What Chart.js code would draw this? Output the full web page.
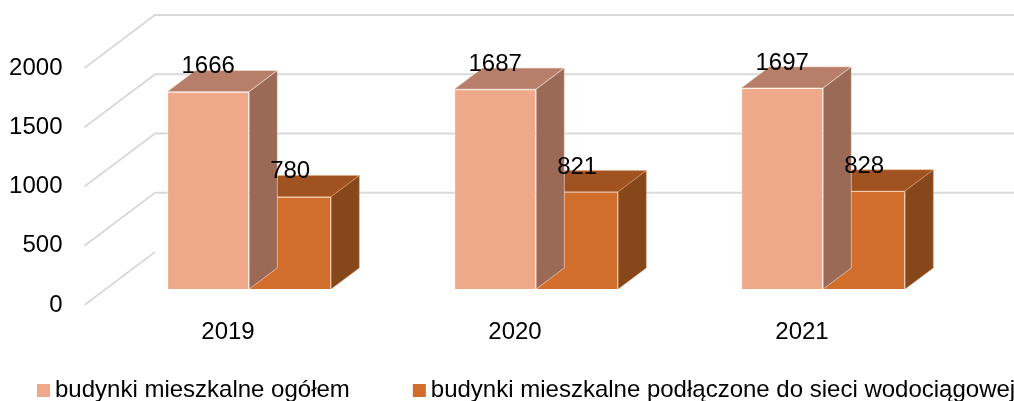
<!DOCTYPE html>
<html>
<head>
<meta charset="utf-8">
<script src="https://cdn.jsdelivr.net/npm/chart.js@4/dist/chart.umd.min.js"></script>
<style>
  html, body { margin: 0; padding: 0; background: #ffffff; }
  #wrap { width: 1014px; height: 401px; position: relative; }
</style>
</head>
<body>
<div id="wrap"><canvas id="c"></canvas></div>
<script>
// Years on the category axis
const categories = ['2019', '2020', '2021'];
// Residential buildings, total
const totalBuildings = [1666, 1687, 1697];
// Residential buildings connected to the water supply network
const connectedBuildings = [780, 821, 828];
const seriesNames = [
  'budynki mieszkalne ogółem',
  'budynki mieszkalne podłączone do sieci wodociągowej'
];
// Value axis ticks
const yTicks = [0, 500, 1000, 1500, 2000];

const FONT = '"Liberation Sans", Arial, Helvetica, sans-serif';
const FONT_SIZE = 24;

// Oblique projection of the floor depth (front edge -> back wall)
const DEPTH_X = 70.5;
const DEPTH_Y = -53;
// Bars sit between these fractions of the floor depth
const BAR_FRONT = 0.3;
const BAR_BACK = 0.7;

const faceColors = [
  { front: '#F0A88A', top: '#B77F69', side: '#9A6A57', edge: 'rgba(255,236,226,0.55)' },
  { front: '#D26E2B', top: '#A05220', side: '#86471B', edge: 'rgba(240,170,120,0.45)' }
];

const gridColor = '#d9d9d9';

const threeD = {
  id: 'threeD',
  beforeDatasetsDraw(chart) {
    const ctx = chart.ctx;
    const yScale = chart.scales.y;
    const left = chart.chartArea.left;
    ctx.save();
    ctx.strokeStyle = gridColor;
    ctx.lineWidth = 1.8;
    yTicks.forEach(v => {
      const py = yScale.getPixelForValue(v);
      ctx.beginPath();
      ctx.moveTo(left, py);
      ctx.lineTo(left + DEPTH_X, py + DEPTH_Y);
      if (v !== 0) ctx.lineTo(chart.width, py + DEPTH_Y);
      ctx.stroke();
    });
    ctx.restore();
  },
  beforeDatasetDraw(chart) {
    const ctx = chart.ctx;
    ctx.save();
    ctx.translate(DEPTH_X * BAR_FRONT, DEPTH_Y * BAR_FRONT);
  },
  afterDatasetDraw(chart, args) {
    const ctx = chart.ctx;
    const col = faceColors[args.index];
    const dx = DEPTH_X * (BAR_BACK - BAR_FRONT);
    const dy = DEPTH_Y * (BAR_BACK - BAR_FRONT);
    args.meta.data.forEach(bar => {
      const { x, y, base, width } = bar.getProps(['x', 'y', 'base', 'width'], true);
      const l = x - width / 2, r = x + width / 2;
      ctx.lineWidth = 1;
      ctx.strokeStyle = col.edge;
      // top face
      ctx.fillStyle = col.top;
      ctx.beginPath();
      ctx.moveTo(l, y);
      ctx.lineTo(l + dx, y + dy);
      ctx.lineTo(r + dx, y + dy);
      ctx.lineTo(r, y);
      ctx.closePath();
      ctx.fill();
      ctx.stroke();
      // right side face
      ctx.fillStyle = col.side;
      ctx.beginPath();
      ctx.moveTo(r, y);
      ctx.lineTo(r + dx, y + dy);
      ctx.lineTo(r + dx, base + dy);
      ctx.lineTo(r, base);
      ctx.closePath();
      ctx.fill();
      ctx.stroke();
    });
    ctx.restore();
  },
  afterDatasetsDraw(chart) {
    // value labels above each bar
    const ctx = chart.ctx;
    ctx.save();
    ctx.font = FONT_SIZE + 'px ' + FONT;
    ctx.fillStyle = '#000000';
    ctx.textAlign = 'center';
    ctx.textBaseline = 'alphabetic';
    chart.data.datasets.forEach((ds, di) => {
      const meta = chart.getDatasetMeta(di);
      meta.data.forEach((bar, i) => {
        const { x, y } = bar.getProps(['x', 'y'], true);
        ctx.fillText(String(ds.data[i]), x + DEPTH_X * BAR_FRONT, y + DEPTH_Y * BAR_BACK + 3);
      });
    });
    ctx.restore();
  },
  afterDraw(chart) {
    // legend row along the bottom edge
    const ctx = chart.ctx;
    ctx.save();
    ctx.font = FONT_SIZE + 'px ' + FONT;
    ctx.textBaseline = 'alphabetic';
    ctx.textAlign = 'left';
    const box = 13, gapText = 5, gapItem = 63;
    const baseline = 397;
    let x = 37;
    chart.data.datasets.forEach((ds, di) => {
      ctx.fillStyle = faceColors[di].front;
      ctx.fillRect(x, baseline - box, box, box);
      ctx.fillStyle = '#000000';
      ctx.fillText(ds.label, x + box + gapText, baseline);
      x += box + gapText + ctx.measureText(ds.label).width + gapItem;
    });
    ctx.restore();
  }
};

new Chart(document.getElementById('c'), {
  type: 'bar',
  data: {
    labels: categories,
    datasets: [
      { label: seriesNames[0], data: totalBuildings, backgroundColor: faceColors[0].front,
        borderColor: faceColors[0].edge, borderWidth: 1, clip: false },
      { label: seriesNames[1], data: connectedBuildings, backgroundColor: faceColors[1].front,
        borderColor: faceColors[1].edge, borderWidth: 1, clip: false }
    ]
  },
  options: {
    responsive: true,
    maintainAspectRatio: false,
    animation: false,
    events: [],
    categoryPercentage: 0.5714,
    barPercentage: 1,
    layout: { padding: { top: 68, right: 68.5, bottom: 0, left: 0 } },
    plugins: {
      legend: { display: false },
      tooltip: { enabled: false },
      title: { display: false }
    },
    scales: {
      x: {
        grid: { display: false, drawTicks: false },
        border: { display: false },
        ticks: { color: '#000000', font: { family: FONT, size: FONT_SIZE }, padding: 13 },
        afterFit(scale) { scale.height = 96; }
      },
      y: {
        min: 0,
        max: 2000,
        grid: { display: false, drawTicks: false },
        border: { display: false },
        afterBuildTicks(scale) { scale.ticks = yTicks.map(v => ({ value: v })); },
        ticks: {
          color: '#000000',
          font: { family: FONT, size: FONT_SIZE },
          padding: 22,
          callback: v => String(v)
        },
        afterFit(scale) { scale.width = 84.5; }
      }
    }
  },
  plugins: [threeD]
});
</script>
</body>
</html>
